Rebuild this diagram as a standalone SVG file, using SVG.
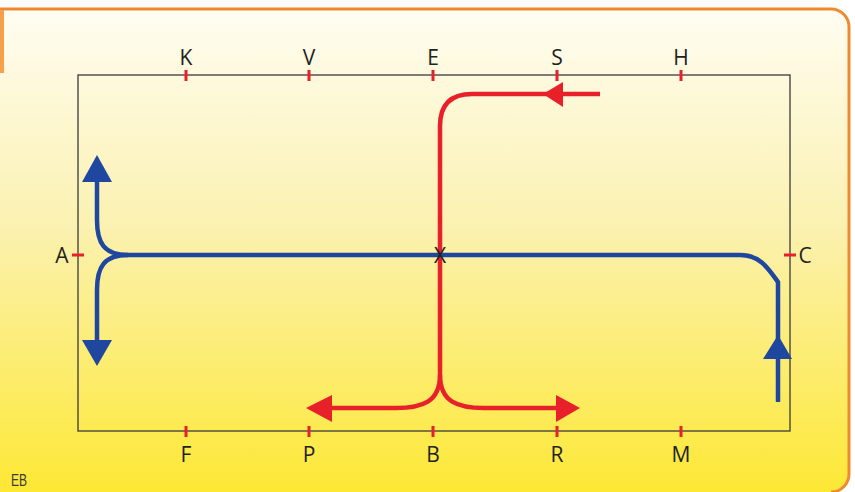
<svg xmlns="http://www.w3.org/2000/svg" width="855" height="492" viewBox="0 0 855 492">
<defs>
<linearGradient id="bg" x1="0" y1="0" x2="0" y2="1">
<stop offset="0" stop-color="#fffdf2"/>
<stop offset="0.45" stop-color="#fbf1b0"/>
<stop offset="1" stop-color="#fde835"/>
</linearGradient>
<style>
.lbl{font-family:"Open Sans","Liberation Sans",sans-serif;font-size:21px;fill:#231f20;text-anchor:middle}
.tick{stroke:#e8202a;stroke-width:3}
.blue{fill:none;stroke:#1f47a0;stroke-width:4.5}
.red{fill:none;stroke:#e8202a;stroke-width:4.5}
.bh{fill:#1f47a0}
.rh{fill:#e8202a}
</style>
</defs>
<g id="background">
<path d="M0,9 H831 A18,18 0 0 1 849,27 V474 A18,18 0 0 1 831,492 H0 Z" fill="url(#bg)"/>
<path d="M0,9 H831 A18,18 0 0 1 849,27 V474 A18,18 0 0 1 831,492" fill="none" stroke="#f08a30" stroke-width="3"/>
<rect x="0" y="10" width="4" height="63" fill="#f6a04a"/>
</g>
<g id="arena">
<rect x="78" y="75" width="712" height="356" fill="none" stroke="#3a3a3a" stroke-width="1.3"/>
</g>
<g id="markers">
<line class="tick" x1="186" y1="70" x2="186" y2="81"/>
<line class="tick" x1="309" y1="70" x2="309" y2="81"/>
<line class="tick" x1="433" y1="70" x2="433" y2="81"/>
<line class="tick" x1="557" y1="70" x2="557" y2="81"/>
<line class="tick" x1="681" y1="70" x2="681" y2="81"/>
<line class="tick" x1="186" y1="426" x2="186" y2="437"/>
<line class="tick" x1="309" y1="426" x2="309" y2="437"/>
<line class="tick" x1="433" y1="426" x2="433" y2="437"/>
<line class="tick" x1="557" y1="426" x2="557" y2="437"/>
<line class="tick" x1="681" y1="426" x2="681" y2="437"/>
<line class="tick" x1="72" y1="255" x2="84" y2="255"/>
<line class="tick" x1="784" y1="255" x2="796" y2="255"/>
<text class="lbl" x="186" y="65">K</text>
<text class="lbl" x="309" y="65">V</text>
<text class="lbl" x="433" y="65">E</text>
<text class="lbl" x="557" y="65">S</text>
<text class="lbl" x="681" y="65">H</text>
<text class="lbl" x="186" y="462">F</text>
<text class="lbl" x="309" y="462">P</text>
<text class="lbl" x="433" y="462">B</text>
<text class="lbl" x="557" y="462">R</text>
<text class="lbl" x="681" y="462">M</text>
<text class="lbl" x="62" y="263">A</text>
<text class="lbl" x="805" y="263">C</text>
</g>
<g id="connectors">
<path class="red" d="M600,94 H472 Q440,94 440,126 V375"/>
<path class="red" d="M440,375 C440,402 422,408 396,408 H330"/>
<path class="red" d="M440,375 C440,402 458,408 484,408 H558"/>
<polygon class="rh" points="543,94 563,82 563,107"/>
<polygon class="rh" points="306,408 332,395 332,422"/>
<polygon class="rh" points="580,408 556,395 556,422"/>
<path class="blue" d="M128,255 H740 C760,255 768,268 778,282 V402"/>
<path class="blue" d="M128,255 C104,255 97,243 97,220 V180"/>
<path class="blue" d="M128,255 C104,255 97,267 97,290 V342"/>
<polygon class="bh" points="97,155 82,182 112,182"/>
<polygon class="bh" points="97,366 82,340 112,340"/>
<polygon class="bh" points="778,335 763,359 792,359"/>
</g>
<g id="centre">
<text class="lbl" x="440" y="263">X</text>
</g>
<text x="11" y="486" font-family="'Liberation Sans',sans-serif" font-size="16" fill="#3a3a3a" transform="translate(11,486) scale(0.75,1) translate(-11,-486)">EB</text>
</svg>
